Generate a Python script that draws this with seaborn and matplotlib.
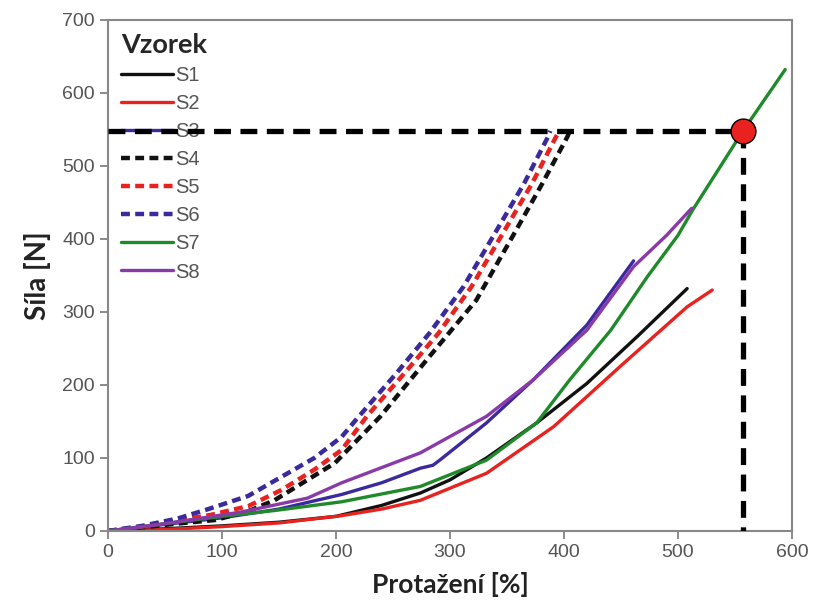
import numpy as np
import pandas as pd
import matplotlib
matplotlib.use("Agg")
import matplotlib.pyplot as plt
import seaborn as sns

# data (x = Protažení [%], y = Síla [N])
s1_x = [0, 50, 100, 150, 200, 240, 274, 300, 332, 376, 420, 464, 508]
s1_y = [0, 3, 7, 12, 20, 35, 52, 70, 100, 148, 202, 266, 332]
s2_x = [0, 50, 100, 150, 205, 240, 274, 332, 391, 449, 508, 530]
s2_y = [0, 2, 6, 11, 21, 30, 42, 79, 143, 225, 307, 330]
s3_x = [0, 50, 100, 150, 205, 240, 274, 285, 291, 332, 373, 420, 461]
s3_y = [0, 9, 18, 30, 50, 66, 86, 90, 97, 148, 207, 282, 370]
s4_x = [0, 30, 60, 94, 123, 146, 175, 199, 219, 239, 282, 323, 358, 381, 403, 405]
s4_y = [0, 5, 10, 15, 27, 42, 70, 93, 125, 157, 239, 316, 412, 476, 540, 548]
s5_x = [0, 30, 60, 90, 123, 152, 181, 205, 227, 260, 290, 319, 348, 372, 393, 396]
s5_y = [0, 6, 14, 22, 34, 56, 84, 111, 157, 216, 271, 335, 412, 476, 540, 548]
s6_x = [0, 30, 61, 88, 123, 152, 181, 205, 219, 253, 282, 312, 341, 365, 386, 388]
s6_y = [0, 7, 17, 30, 48, 74, 100, 129, 155, 216, 271, 335, 412, 476, 540, 548]
s7_x = [0, 50, 100, 146, 205, 274, 332, 376, 405, 441, 473, 500, 513, 557, 594]
s7_y = [0, 10, 20, 28, 40, 61, 97, 148, 207, 275, 348, 405, 440, 548, 632]
s8_x = [0, 50, 117, 175, 205, 274, 332, 373, 420, 461, 490, 512]
s8_y = [0, 10, 26, 45, 66, 107, 157, 207, 275, 362, 405, 442]

names = ["S1", "S2", "S3", "S4", "S5", "S6", "S7", "S8"]
xs = [s1_x, s2_x, s3_x, s4_x, s5_x, s6_x, s7_x, s8_x]
ys = [s1_y, s2_y, s3_y, s4_y, s5_y, s6_y, s7_y, s8_y]
colors = ["#111111", "#e8231f", "#3a2a9c", "#111111", "#e8231f", "#3a2a9c", "#1f8a2a", "#8a3aa8"]
dashed = [False, False, False, True, True, True, False, False]

# marked point
pt_x = 557
pt_y = 548

sns.set_style("white")
plt.rcParams['font.family'] = ['Liberation Sans', 'DejaVu Sans']

fig = plt.figure(figsize=(8.21, 6.04), dpi=100)
ax = fig.add_axes([0.1315, 0.1209, 0.8332, 0.8461])

for name, x, y, c, d in zip(names, xs, ys, colors, dashed):
    df = pd.DataFrame({"x": x, "y": y})
    if d:
        sns.lineplot(data=df, x="x", y="y", ax=ax, color=c, lw=3.2,
                     linestyle=(0, (2.0, 1.2)), label=name, sort=False)
    else:
        sns.lineplot(data=df, x="x", y="y", ax=ax, color=c, lw=2.4,
                     label=name, sort=False)

# reference lines to the red point
ax.plot([0, pt_x], [pt_y, pt_y], color="black", lw=3.8, ls=(0, (3.2, 1.8)), zorder=6)
ax.plot([pt_x, pt_x], [pt_y, 0], color="black", lw=3.8, ls=(0, (3.2, 1.8)), zorder=6)
ax.scatter([pt_x], [pt_y], s=320, color="#e8231f", edgecolor="black", linewidth=1, zorder=7)

ax.set_xlim(0, 600)
ax.set_ylim(0, 700)
ax.set_xticks(np.arange(0, 601, 100))
ax.set_yticks(np.arange(0, 701, 100))
ax.tick_params(direction="out", length=6, width=1.2, color="#777777",
               labelsize=14, labelcolor="#555555", bottom=True, left=True)
for sp in ax.spines.values():
    sp.set_color("#888888")
    sp.set_linewidth(1.5)

ax.set_xlabel("Protažení [%]", fontsize=19, fontweight="bold", family="Lato",
              color="#222222", labelpad=8)
ax.set_ylabel("Síla [N]", fontsize=20, fontweight="bold", family="Lato",
              color="#222222", labelpad=8)

leg = ax.legend(loc="upper left", frameon=False, title="Vzorek", fontsize=14.5,
                handlelength=2.6, handletextpad=0.1, labelspacing=0.45,
                borderpad=0.2, borderaxespad=0.45, labelcolor="#555555")
leg.get_title().set_fontweight("bold")
leg.get_title().set_fontsize(19.5)
leg.get_title().set_family("Lato")
leg._legend_box.align = "left"

fig.savefig("out.png", dpi=100)
